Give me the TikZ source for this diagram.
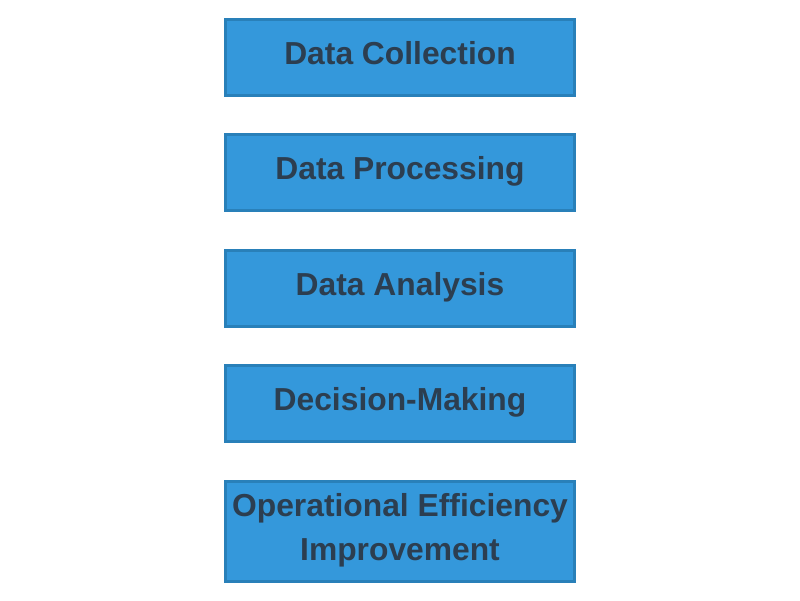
\documentclass[tikz,border=0pt]{standalone}
\usepackage{fontspec}
\setmainfont{Liberation Sans}
\definecolor{boxfill}{HTML}{3498DB}
\definecolor{boxline}{HTML}{2980B9}
\definecolor{boxtext}{HTML}{2C3E50}
\begin{document}
\begin{tikzpicture}[x=1pt,y=-1pt,
  stagebox/.style={draw=boxline, line width=3pt, fill=boxfill, rectangle,
    minimum width=349pt, minimum height=76pt, inner sep=0pt,
    text height=24pt, text depth=8.6pt,
    text=boxtext, font=\fontsize{31.8}{44}\selectfont\bfseries, align=center}]
\useasboundingbox (0,0) rectangle (800,600);
\node[stagebox] (a) at (400,57) {Data Collection};
\node[stagebox] (b) at (400,172) {Data Processing};
\node[stagebox] (c) at (400,288) {Data Analysis};
\node[stagebox] (d) at (400,403) {Decision-Making};
\node[stagebox, minimum height=100pt, text height=68pt] (e) at (400,531) {Operational Efficiency\\Improvement};
\end{tikzpicture}
\end{document}
